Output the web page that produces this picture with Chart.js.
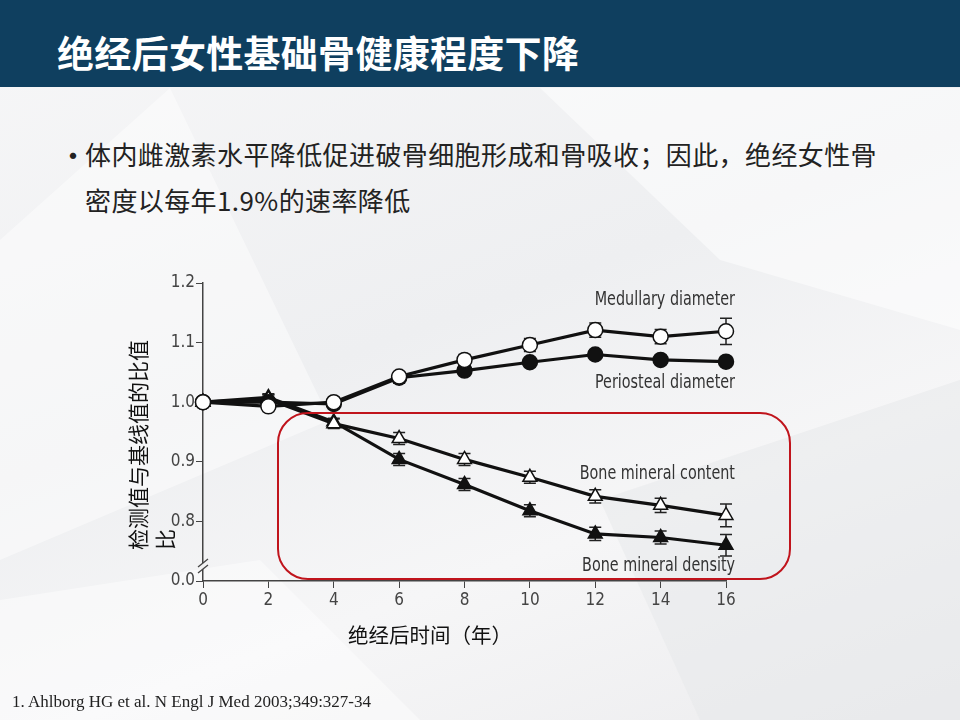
<!DOCTYPE html>
<html>
<head>
<meta charset="utf-8">
<script src="https://cdn.jsdelivr.net/npm/chart.js@4"></script>
<style>
  html, body { margin: 0; padding: 0; }
  body {
    width: 960px; height: 720px; position: relative; overflow: hidden;
    background: linear-gradient(160deg, #f7f7f8 0%, #eeeff1 45%, #f6f6f7 70%, #ececee 100%);
    font-family: "Noto Sans CJK SC", "Noto Sans", sans-serif;
  }
  .bg { position: absolute; left: 0; top: 0; }
  .header {
    position: absolute; left: 0; top: 0; width: 960px; height: 87px;
    background: #0f3f5f;
  }
  .header h1 {
    margin: 0; position: absolute; left: 57px; top: 26px;
    color: #fff; font-size: 37px; font-weight: 700; line-height: 52px; letter-spacing: 0.3px;
  }
  .bullet {
    position: absolute; left: 58px; top: 131px; width: 880px;
    font-size: 26px; color: #222; line-height: 46px; letter-spacing: 0.4px;
  }
  .bullet .dot { position: absolute; left: 0; top: 0; font-size: 30px; }
  .bullet .txt { margin-left: 27px; }
  .ytitle {
    position: absolute; left: 124px; top: 550px; transform-origin: 0 0; transform: rotate(-90deg);
    font-size: 21px; color: #111; line-height: 27px; white-space: nowrap;
  }
  .xtitle {
    position: absolute; left: 348px; top: 619px; font-size: 20.5px; color: #111;
  }
  .ref {
    position: absolute; left: 12px; top: 692px; font-family: "Liberation Serif", serif;
    font-size: 17px; color: #222;
  }
  #chartWrap { position: absolute; left: 0; top: 0; width: 960px; height: 720px; }
</style>
</head>
<body>
<svg class="bg" width="960" height="720">
  <polygon points="0,240 170,88 330,420 0,560" fill="#ffffff" opacity="0.45"/>
  <polygon points="540,88 960,88 960,330 720,260" fill="#ffffff" opacity="0.5"/>
  <polygon points="600,500 960,380 960,720 700,720" fill="#e6e7ea" opacity="0.5"/>
  <polygon points="0,600 260,560 420,720 0,720" fill="#ffffff" opacity="0.45"/>
</svg>
<div class="header"><h1>绝经后女性基础骨健康程度下降</h1></div>
<div class="bullet"><span class="dot">•</span><div class="txt">体内雌激素水平降低促进破骨细胞形成和骨吸收；因此，绝经女性骨<br>密度以每年1.9%的速率降低</div></div>
<div id="chartWrap"><canvas id="chart" width="960" height="720"></canvas></div>
<div class="ytitle">检测值与基线值的比值<br>比</div>
<div class="xtitle">绝经后时间（年）</div>
<div class="ref">1. Ahlborg HG et al. N Engl J Med 2003;349:327-34</div>
<script>
// years after menopause
var years = [0, 2, 4, 6, 8, 10, 12, 14, 16];

// ratio to baseline
var medullary  = [1.000, 0.993, 1.000, 1.043, 1.071, 1.096, 1.121, 1.110, 1.119];
var periosteal = [1.000, 1.000, 0.997, 1.041, 1.053, 1.067, 1.080, 1.071, 1.068];
var bmContent  = [1.000, 1.005, 0.964, 0.939, 0.904, 0.874, 0.842, 0.827, 0.810];
var bmDensity  = [1.000, 1.008, 0.967, 0.904, 0.862, 0.818, 0.779, 0.773, 0.760];

// error bar half-widths
var medullaryErr  = [0, 0.006, 0, 0.008, 0.009, 0.011, 0.012, 0.012, 0.022];
var periostealErr = [0, 0.012, 0, 0.009, 0.006, 0.005, 0.005, 0.005, 0.005];
var bmContentErr  = [0, 0.008, 0.008, 0.010, 0.010, 0.010, 0.011, 0.012, 0.019];
var bmDensityErr  = [0, 0.006, 0.006, 0.010, 0.010, 0.010, 0.011, 0.011, 0.018];

var seriesNames = ['Medullary diameter', 'Periosteal diameter', 'Bone mineral content', 'Bone mineral density'];

// y axis is broken: bottom tick (0.7 on the scale) reads 0.0
var yTicks = [0.7, 0.8, 0.9, 1.0, 1.1, 1.2];
var yTickLabels = ['0.0', '0.8', '0.9', '1.0', '1.1', '1.2'];

function pts(vals) {
    return years.map(function (x, i) { return {x: x, y: vals[i]}; });
}

var tickFont = {family: "'DejaVu Sans Condensed', sans-serif", size: 17};

var errBars = {
    id: 'errBars',
    beforeDatasetsDraw: function (chart) {
        var ctx = chart.ctx;
        var xs = chart.scales.x, ys = chart.scales.y;
        ctx.save();
        ctx.strokeStyle = '#222';
        ctx.lineWidth = 1.5;
        chart.data.datasets.forEach(function (ds) {
            ds.err.forEach(function (e, i) {
                if (!e) return;
                var px = xs.getPixelForValue(ds.data[i].x);
                var top = ys.getPixelForValue(ds.data[i].y + e);
                var bot = ys.getPixelForValue(ds.data[i].y - e);
                ctx.beginPath();
                ctx.moveTo(px, top); ctx.lineTo(px, bot);
                ctx.moveTo(px - 6, top); ctx.lineTo(px + 6, top);
                ctx.moveTo(px - 6, bot); ctx.lineTo(px + 6, bot);
                ctx.stroke();
            });
        });
        ctx.restore();
    },
    afterDraw: function (chart) {
        var ctx = chart.ctx;
        var area = chart.chartArea;
        var ys = chart.scales.y;
        ctx.save();
        // axis break marks
        var by = ys.getPixelForValue(0.725);
        ctx.strokeStyle = '#444';
        ctx.lineWidth = 1.3;
        ctx.fillStyle = '#f2f2f3';
        ctx.fillRect(area.left - 4, by - 3, 8, 6);
        ctx.beginPath();
        ctx.moveTo(area.left - 5, by + 1); ctx.lineTo(area.left + 5, by - 7);
        ctx.moveTo(area.left - 5, by + 7); ctx.lineTo(area.left + 5, by - 1);
        ctx.stroke();

        // series labels (condensed look)
        ctx.fillStyle = '#333';
        ctx.font = "19px 'DejaVu Sans Condensed', sans-serif";
        ctx.textBaseline = 'middle';
        ctx.textAlign = 'right';
        var lx = area.right + 9;
        [[seriesNames[0], 300], [seriesNames[1], 383], [seriesNames[2], 474], [seriesNames[3], 566]].forEach(function (l) {
            ctx.save();
            ctx.translate(lx, l[1]);
            ctx.scale(0.84, 1);
            ctx.fillText(l[0], 0, 0);
            ctx.restore();
        });

        // red highlight box
        ctx.strokeStyle = '#c0141c';
        ctx.lineWidth = 2;
        ctx.beginPath();
        ctx.roundRect(278, 413, 512, 166, 30);
        ctx.stroke();
        ctx.restore();
    }
};

var ctx = document.getElementById('chart').getContext('2d');
new Chart(ctx, {
    type: 'line',
    data: {
        datasets: [
            {label: seriesNames[0], data: pts(medullary), err: medullaryErr, pointStyle: 'circle', pointRadius: 7.5, backgroundColor: '#fff'},
            {label: seriesNames[1], data: pts(periosteal), err: periostealErr, pointStyle: 'circle', pointRadius: 7.5, backgroundColor: '#111'},
            {label: seriesNames[2], data: pts(bmContent), err: bmContentErr, pointStyle: 'triangle', pointRadius: 8, backgroundColor: '#fff'},
            {label: seriesNames[3], data: pts(bmDensity), err: bmDensityErr, pointStyle: 'triangle', pointRadius: 8, backgroundColor: '#111'}
        ].map(function (d) {
            d.borderColor = '#111';
            d.borderWidth = 3.2;
            d.pointBorderColor = '#111';
            d.pointBorderWidth = 1.5;
            d.pointBackgroundColor = d.backgroundColor;
            d.tension = 0;
            d.clip = false;
            return d;
        })
    },
    options: {
        responsive: false,
        animation: false,
        events: [],
        layout: {padding: {left: 153, right: 234, top: 283, bottom: 99}},
        plugins: {legend: {display: false}, tooltip: {enabled: false}},
        scales: {
            x: {
                type: 'linear', min: 0, max: 16,
                grid: {drawOnChartArea: false, color: '#444', tickLength: 7, tickColor: '#444'},
                border: {color: '#444', width: 1.5},
                ticks: {stepSize: 2, color: '#444', font: tickFont, padding: 2},
                afterFit: function (s) { s.height = 40; }
            },
            y: {
                min: 0.7, max: 1.2,
                afterBuildTicks: function (s) { s.ticks = yTicks.map(function (v) { return {value: v}; }); },
                grid: {drawOnChartArea: false, color: '#444', tickLength: 7, tickColor: '#444'},
                border: {color: '#444', width: 1.5},
                ticks: {
                    color: '#444', font: tickFont, padding: 1,
                    callback: function (v) {
                        var i = yTicks.findIndex(function (t) { return Math.abs(t - v) < 1e-6; });
                        return i < 0 ? '' : yTickLabels[i];
                    }
                },
                afterFit: function (s) { s.width = 50; }
            }
        }
    },
    plugins: [errBars]
});
</script>
</body>
</html>
